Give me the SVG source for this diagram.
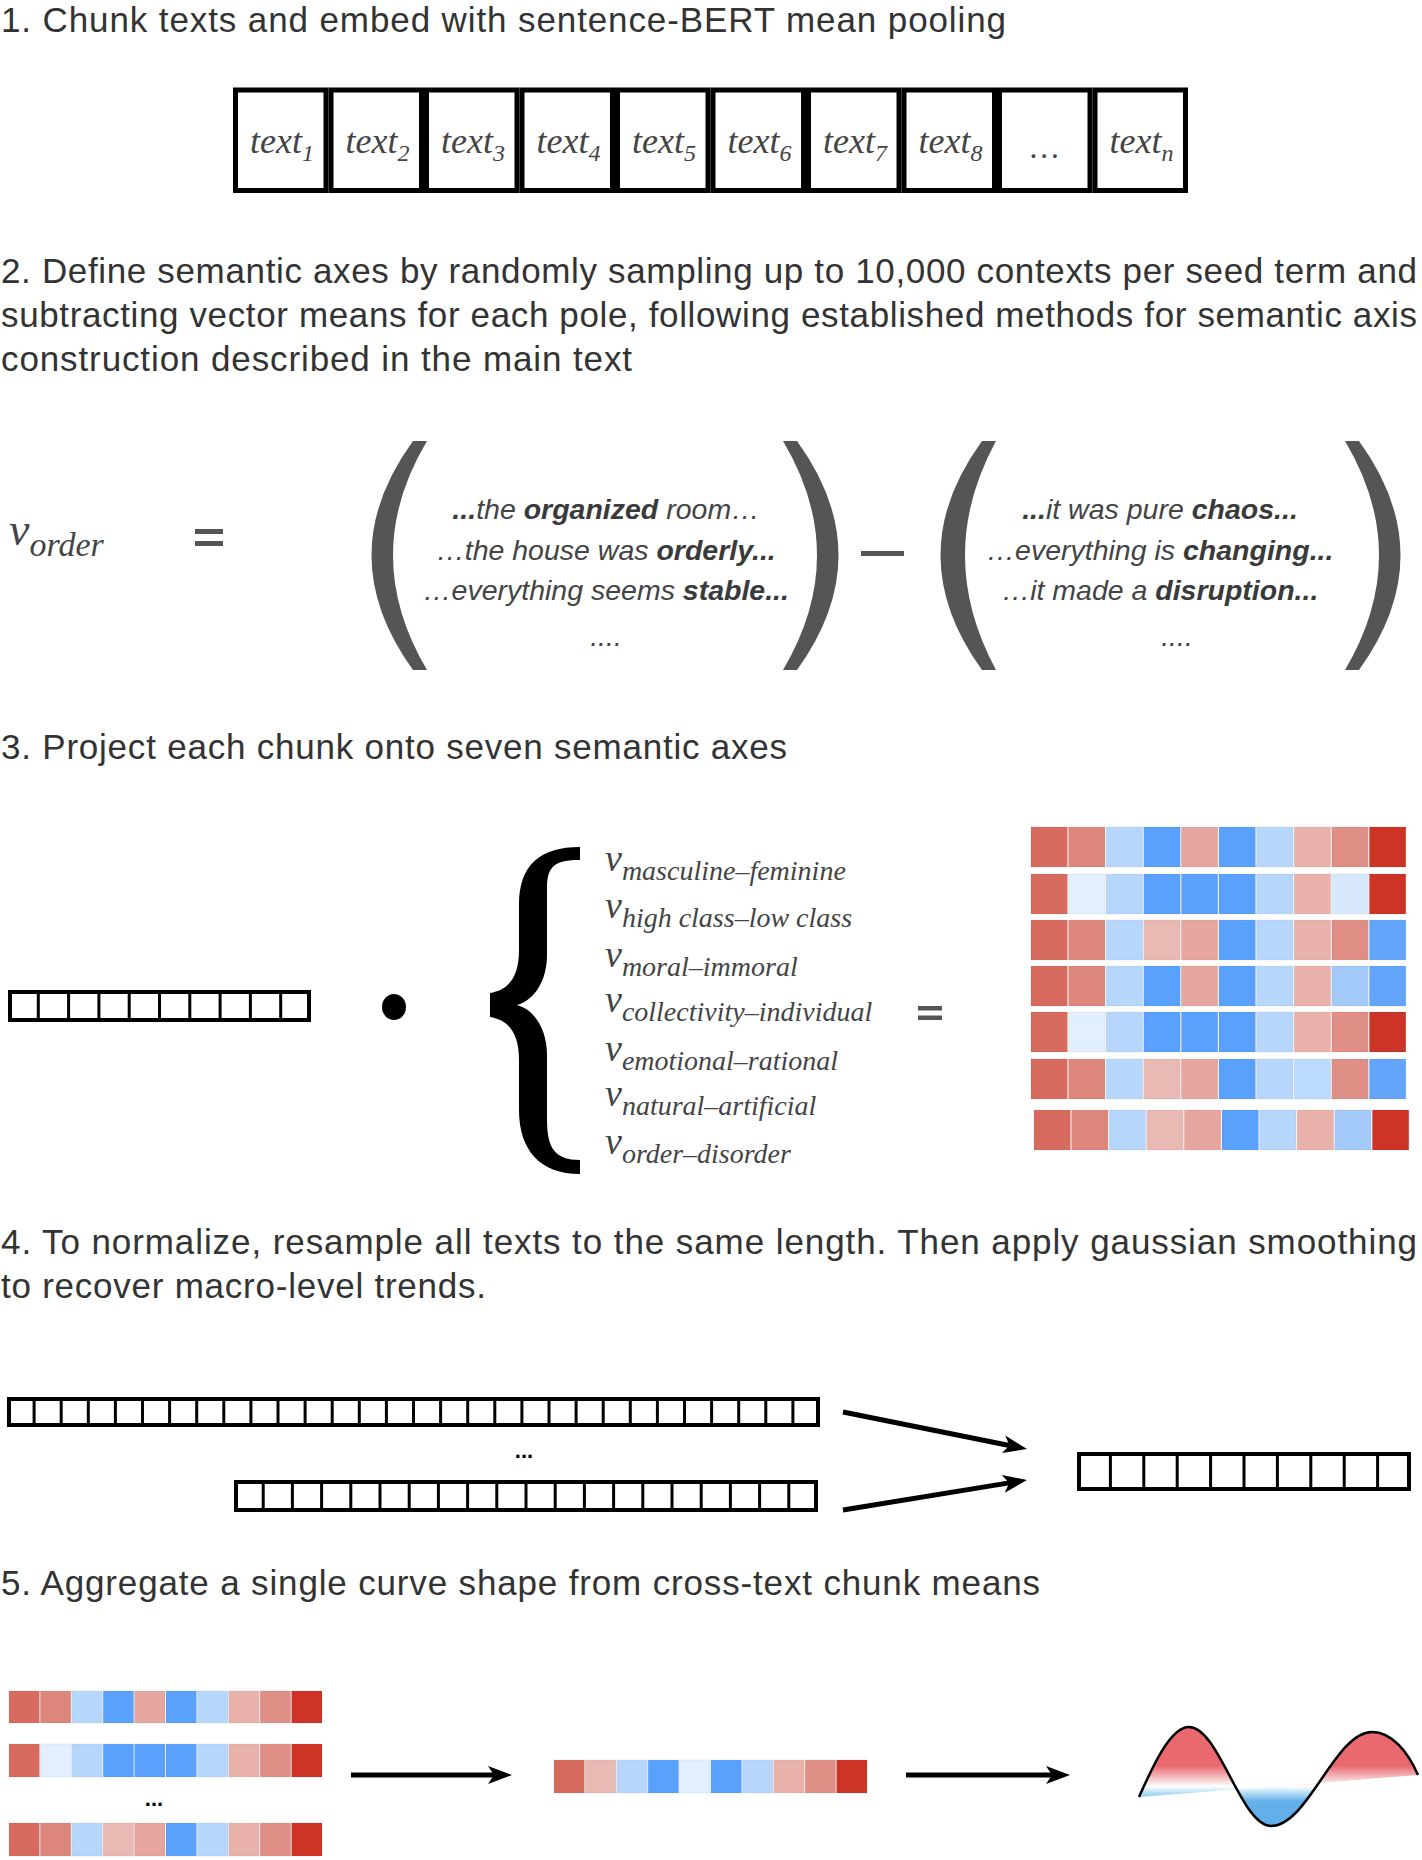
<svg xmlns="http://www.w3.org/2000/svg" width="1422" height="1860" viewBox="0 0 1422 1860">
<style>
.h{font-family:"Liberation Sans",Arial,sans-serif;font-size:35px;fill:#333}
.m{font-family:"Liberation Serif","Times New Roman",serif;font-style:italic;fill:#444}
.q{font-family:"Liberation Sans",Arial,sans-serif;font-style:italic;font-size:28.5px;fill:#444;text-anchor:middle}
.b{font-weight:bold;fill:#3a3a3a}
.cell{fill:#fff;stroke:#000;stroke-width:5}
.bar{fill:#fff;stroke:#000;stroke-width:4}
.div{stroke:#000;stroke-width:3;fill:none}
.gray{fill:#555}
.R1{fill:#d76b5f}.R2{fill:#dd877c}.R2b{fill:#e08f87}.R3{fill:#cd3425}
.P1{fill:#e6a59e}.P2{fill:#e9b2ab}.P3{fill:#e9b9b4}
.B1{fill:#5aa1fd}.B2{fill:#62a5fb}
.LB{fill:#b7d6fc}.LB3{fill:#a4cafa}.LB4{fill:#bcdafd}
.VLB{fill:#e2effe}.VLB2{fill:#d9e9fd}
.hm rect{stroke:#000;stroke-opacity:0.06;stroke-width:1}
.arrow{stroke:#000;stroke-width:5;fill:none;marker-end:url(#ah)}
</style>
<defs>
<marker id="ah" markerUnits="userSpaceOnUse" markerWidth="24" markerHeight="20" refX="6" refY="10" orient="auto">
<path d="M0,1 L24,10 L0,19 L6,10 Z" fill="#000"/>
</marker>
<linearGradient id="wave" gradientUnits="userSpaceOnUse" x1="0" y1="1727" x2="0" y2="1826">
<stop offset="0" stop-color="#e9696f"/>
<stop offset="0.39" stop-color="#e9696f"/>
<stop offset="0.60" stop-color="#ffffff"/>
<stop offset="0.65" stop-color="#c5e6f7"/>
<stop offset="0.75" stop-color="#63b0eb"/>
<stop offset="1" stop-color="#60aeeb"/>
</linearGradient>
</defs>
<rect width="1422" height="1860" fill="#fff"/>

<!-- Step titles -->
<g id="title1"><text class="h" x="1" y="32" textLength="1005">1. Chunk texts and embed with sentence-BERT mean pooling</text></g>
<g id="title2">
<text class="h" x="1" y="283" textLength="1416">2. Define semantic axes by randomly sampling up to 10,000 contexts per seed term and</text>
<text class="h" x="1" y="327" textLength="1416">subtracting vector means for each pole, following established methods for semantic axis</text>
<text class="h" x="1" y="371" textLength="631">construction described in the main text</text>
</g>
<g id="title3"><text class="h" x="1" y="759" textLength="786">3. Project each chunk onto seven semantic axes</text></g>
<g id="title4">
<text class="h" x="1" y="1254" textLength="1416">4. To normalize, resample all texts to the same length. Then apply gaussian smoothing</text>
<text class="h" x="1" y="1298" textLength="485">to recover macro-level trends.</text>
</g>
<g id="title5"><text class="h" x="1" y="1595" textLength="1039">5. Aggregate a single curve shape from cross-text chunk means</text></g>

<!-- Step 1 -->
<g id="chunks">
<rect class="cell" x="235.5" y="90" width="90.5" height="100.5"/>
<rect class="cell" x="331" y="90" width="90.5" height="100.5"/>
<rect class="cell" x="426.5" y="90" width="90.5" height="100.5"/>
<rect class="cell" x="522" y="90" width="90.5" height="100.5"/>
<rect class="cell" x="617.5" y="90" width="90.5" height="100.5"/>
<rect class="cell" x="713" y="90" width="90.5" height="100.5"/>
<rect class="cell" x="808.5" y="90" width="90.5" height="100.5"/>
<rect class="cell" x="904" y="90" width="90.5" height="100.5"/>
<rect class="cell" x="999.5" y="90" width="90.5" height="100.5"/>
<rect class="cell" x="1095" y="90" width="90.5" height="100.5"/>
<g class="m" font-size="36" text-anchor="middle">
<text x="282" y="153">text<tspan font-size="24" dy="8">1</tspan></text>
<text x="377.5" y="153">text<tspan font-size="24" dy="8">2</tspan></text>
<text x="473" y="153">text<tspan font-size="24" dy="8">3</tspan></text>
<text x="568.5" y="153">text<tspan font-size="24" dy="8">4</tspan></text>
<text x="664" y="153">text<tspan font-size="24" dy="8">5</tspan></text>
<text x="759.5" y="153">text<tspan font-size="24" dy="8">6</tspan></text>
<text x="855" y="153">text<tspan font-size="24" dy="8">7</tspan></text>
<text x="950.5" y="153">text<tspan font-size="24" dy="8">8</tspan></text>
<text x="1044.75" y="158" font-size="32">…</text>
<text x="1141.5" y="153">text<tspan font-size="24" dy="8">n</tspan></text>
</g>
</g>

<!-- Step 2 -->
<g id="v-order"><text class="m" x="9" y="545" font-size="46">v<tspan font-size="34" dy="11">order</tspan></text></g>
<g id="equals1" class="gray"><rect x="195" y="529" width="28" height="5"/><rect x="195" y="541" width="28" height="5"/></g>
<g id="order-pole">
<path class="gray" d="M413,441 L427,441 Q359,555 427,670 L413,670 Q330,555 413,441 Z"/>
<path class="gray" d="M797,441 L783,441 Q851,555 783,670 L797,670 Q880,555 797,441 Z"/>
<text class="q" x="606" y="519"><tspan class="b">...</tspan>the <tspan class="b">organized</tspan> room…</text>
<text class="q" x="606" y="560">…the house was <tspan class="b">orderly...</tspan></text>
<text class="q" x="606" y="600">…everything seems <tspan class="b">stable...</tspan></text>
<text class="q" x="606" y="646">....</text>
</g>
<g id="minus"><rect class="gray" x="861" y="551" width="43" height="5"/></g>
<g id="disorder-pole">
<path class="gray" d="M982,441 L996,441 Q934,555 996,670 L982,670 Q899,555 982,441 Z"/>
<path class="gray" d="M1359,441 L1345,441 Q1413,555 1345,670 L1359,670 Q1442,555 1359,441 Z"/>
<text class="q" x="1160" y="519"><tspan class="b">...</tspan>it was pure <tspan class="b">chaos...</tspan></text>
<text class="q" x="1160" y="560">…everything is <tspan class="b">changing...</tspan></text>
<text class="q" x="1160" y="600">…it made a <tspan class="b">disruption...</tspan></text>
<text class="q" x="1177" y="646">....</text>
</g>

<!-- Step 3 -->
<g id="chunk-vector">
<rect class="bar" x="10" y="992" width="299" height="28"/>
<path class="div" d="M38.3,990V1022M68.6,990V1022M98.9,990V1022M129.2,990V1022M159.5,990V1022M189.8,990V1022M220.1,990V1022M250.4,990V1022M280.7,990V1022"/>
</g>
<g id="dot"><ellipse cx="394" cy="1007" rx="12" ry="13" fill="#000"/></g>
<g id="axes">
<path fill="#000" d="M580,847 C540,847 519,865 519,905 L519,950 C519,978 508,990 490,993 L490,1017 C508,1020 519,1032 519,1060 L519,1110 C519,1150 540,1174 580,1174 L580,1160 C555,1160 547,1148 547,1120 L547,1055 C547,1030 535,1010 517,1005 C535,1000 547,980 547,955 L547,888 C547,866 555,860 580,860 Z"/>
<g class="m" font-size="38">
<text x="605" y="871">v<tspan font-size="28" dy="9">masculine–feminine</tspan></text>
<text x="605" y="918">v<tspan font-size="28" dy="9">high class–low class</tspan></text>
<text x="605" y="967">v<tspan font-size="28" dy="9">moral–immoral</tspan></text>
<text x="605" y="1012">v<tspan font-size="28" dy="9">collectivity–individual</tspan></text>
<text x="605" y="1061">v<tspan font-size="28" dy="9">emotional–rational</tspan></text>
<text x="605" y="1106">v<tspan font-size="28" dy="9">natural–artificial</tspan></text>
<text x="605" y="1154">v<tspan font-size="28" dy="9">order–disorder</tspan></text>
</g>
</g>
<g id="equals2" class="gray"><rect x="918" y="1006" width="24" height="4.5"/><rect x="918" y="1015.5" width="24" height="4.5"/></g>
<g id="projection-heatmap" class="hm">
<g>
<rect class="R1" x="1031" y="827" width="36.4" height="40"/><rect class="R2" x="1068.6" y="827" width="36.4" height="40"/><rect class="LB" x="1106.2" y="827" width="36.4" height="40"/><rect class="B1" x="1143.8" y="827" width="36.4" height="40"/><rect class="P1" x="1181.4" y="827" width="36.4" height="40"/><rect class="B1" x="1219" y="827" width="36.4" height="40"/><rect class="LB" x="1256.6" y="827" width="36.4" height="40"/><rect class="P2" x="1294.2" y="827" width="36.4" height="40"/><rect class="R2b" x="1331.8" y="827" width="36.4" height="40"/><rect class="R3" x="1369.4" y="827" width="36.4" height="40"/>
</g>
<g>
<rect class="R1" x="1031" y="874" width="36.4" height="40"/><rect class="VLB" x="1068.6" y="874" width="36.4" height="40"/><rect class="LB" x="1106.2" y="874" width="36.4" height="40"/><rect class="B1" x="1143.8" y="874" width="36.4" height="40"/><rect class="B1" x="1181.4" y="874" width="36.4" height="40"/><rect class="B1" x="1219" y="874" width="36.4" height="40"/><rect class="LB" x="1256.6" y="874" width="36.4" height="40"/><rect class="P2" x="1294.2" y="874" width="36.4" height="40"/><rect class="VLB2" x="1331.8" y="874" width="36.4" height="40"/><rect class="R3" x="1369.4" y="874" width="36.4" height="40"/>
</g>
<g>
<rect class="R1" x="1031" y="920" width="36.4" height="40"/><rect class="R2" x="1068.6" y="920" width="36.4" height="40"/><rect class="LB" x="1106.2" y="920" width="36.4" height="40"/><rect class="P3" x="1143.8" y="920" width="36.4" height="40"/><rect class="P1" x="1181.4" y="920" width="36.4" height="40"/><rect class="B1" x="1219" y="920" width="36.4" height="40"/><rect class="LB" x="1256.6" y="920" width="36.4" height="40"/><rect class="P2" x="1294.2" y="920" width="36.4" height="40"/><rect class="R2b" x="1331.8" y="920" width="36.4" height="40"/><rect class="B2" x="1369.4" y="920" width="36.4" height="40"/>
</g>
<g>
<rect class="R1" x="1031" y="966" width="36.4" height="40"/><rect class="R2" x="1068.6" y="966" width="36.4" height="40"/><rect class="LB" x="1106.2" y="966" width="36.4" height="40"/><rect class="B1" x="1143.8" y="966" width="36.4" height="40"/><rect class="P1" x="1181.4" y="966" width="36.4" height="40"/><rect class="B1" x="1219" y="966" width="36.4" height="40"/><rect class="LB" x="1256.6" y="966" width="36.4" height="40"/><rect class="P2" x="1294.2" y="966" width="36.4" height="40"/><rect class="LB3" x="1331.8" y="966" width="36.4" height="40"/><rect class="B2" x="1369.4" y="966" width="36.4" height="40"/>
</g>
<g>
<rect class="R1" x="1031" y="1012" width="36.4" height="40"/><rect class="VLB" x="1068.6" y="1012" width="36.4" height="40"/><rect class="LB" x="1106.2" y="1012" width="36.4" height="40"/><rect class="B1" x="1143.8" y="1012" width="36.4" height="40"/><rect class="B1" x="1181.4" y="1012" width="36.4" height="40"/><rect class="B1" x="1219" y="1012" width="36.4" height="40"/><rect class="LB" x="1256.6" y="1012" width="36.4" height="40"/><rect class="P2" x="1294.2" y="1012" width="36.4" height="40"/><rect class="R2b" x="1331.8" y="1012" width="36.4" height="40"/><rect class="R3" x="1369.4" y="1012" width="36.4" height="40"/>
</g>
<g>
<rect class="R1" x="1031" y="1059" width="36.4" height="40"/><rect class="R2" x="1068.6" y="1059" width="36.4" height="40"/><rect class="LB" x="1106.2" y="1059" width="36.4" height="40"/><rect class="P3" x="1143.8" y="1059" width="36.4" height="40"/><rect class="P1" x="1181.4" y="1059" width="36.4" height="40"/><rect class="B1" x="1219" y="1059" width="36.4" height="40"/><rect class="LB" x="1256.6" y="1059" width="36.4" height="40"/><rect class="LB4" x="1294.2" y="1059" width="36.4" height="40"/><rect class="R2b" x="1331.8" y="1059" width="36.4" height="40"/><rect class="B2" x="1369.4" y="1059" width="36.4" height="40"/>
</g>
<g transform="translate(3,0)">
<rect class="R1" x="1031" y="1110" width="36.4" height="40"/><rect class="R2" x="1068.6" y="1110" width="36.4" height="40"/><rect class="LB" x="1106.2" y="1110" width="36.4" height="40"/><rect class="P3" x="1143.8" y="1110" width="36.4" height="40"/><rect class="P1" x="1181.4" y="1110" width="36.4" height="40"/><rect class="B1" x="1219" y="1110" width="36.4" height="40"/><rect class="LB" x="1256.6" y="1110" width="36.4" height="40"/><rect class="P2" x="1294.2" y="1110" width="36.4" height="40"/><rect class="LB3" x="1331.8" y="1110" width="36.4" height="40"/><rect class="R3" x="1369.4" y="1110" width="36.4" height="40"/>
</g>
</g>

<!-- Step 4 -->
<g id="long-text">
<rect class="bar" x="9" y="1399" width="809" height="26"/>
<path class="div" d="M34.1,1397V1427M61.2,1397V1427M88.3,1397V1427M115.4,1397V1427M142.5,1397V1427M169.6,1397V1427M196.7,1397V1427M223.8,1397V1427M250.9,1397V1427M278,1397V1427M305.1,1397V1427M332.2,1397V1427M359.3,1397V1427M386.4,1397V1427M413.5,1397V1427M440.6,1397V1427M467.7,1397V1427M494.8,1397V1427M521.9,1397V1427M549,1397V1427M576.1,1397V1427M603.2,1397V1427M630.3,1397V1427M657.4,1397V1427M684.5,1397V1427M711.6,1397V1427M738.7,1397V1427M765.8,1397V1427M792.9,1397V1427"/>
</g>
<g id="ellipsis4"><text x="524" y="1458" font-family="Liberation Sans,Arial,sans-serif" font-size="22" font-weight="bold" text-anchor="middle" fill="#000">...</text></g>
<g id="short-text">
<rect class="bar" x="236" y="1482" width="580" height="28"/>
<path class="div" d="M263.2,1480V1512M292.4,1480V1512M321.6,1480V1512M350.8,1480V1512M380,1480V1512M409.2,1480V1512M438.4,1480V1512M467.6,1480V1512M496.8,1480V1512M526,1480V1512M555.2,1480V1512M584.4,1480V1512M613.6,1480V1512M642.8,1480V1512M672,1480V1512M701.2,1480V1512M730.4,1480V1512M759.6,1480V1512M788.8,1480V1512"/>
</g>
<g id="resampled">
<rect class="bar" x="1079" y="1454" width="330" height="35"/>
<path class="div" d="M1110.4,1452V1491M1143.8,1452V1491M1177.2,1452V1491M1210.6,1452V1491M1244,1452V1491M1277.4,1452V1491M1310.8,1452V1491M1344.2,1452V1491M1377.6,1452V1491"/>
</g>

<!-- Step 5 -->
<g id="text-heatmaps" class="hm">
<g>
<rect class="R1" x="9" y="1691" width="30.4" height="32"/><rect class="R2" x="40.4" y="1691" width="30.4" height="32"/><rect class="LB" x="71.8" y="1691" width="30.4" height="32"/><rect class="B1" x="103.2" y="1691" width="30.4" height="32"/><rect class="P1" x="134.6" y="1691" width="30.4" height="32"/><rect class="B1" x="166" y="1691" width="30.4" height="32"/><rect class="LB" x="197.4" y="1691" width="30.4" height="32"/><rect class="P2" x="228.8" y="1691" width="30.4" height="32"/><rect class="R2b" x="260.2" y="1691" width="30.4" height="32"/><rect class="R3" x="291.6" y="1691" width="30.4" height="32"/>
</g>
<g>
<rect class="R1" x="9" y="1744" width="30.4" height="33"/><rect class="VLB" x="40.4" y="1744" width="30.4" height="33"/><rect class="LB" x="71.8" y="1744" width="30.4" height="33"/><rect class="B1" x="103.2" y="1744" width="30.4" height="33"/><rect class="B1" x="134.6" y="1744" width="30.4" height="33"/><rect class="B1" x="166" y="1744" width="30.4" height="33"/><rect class="LB" x="197.4" y="1744" width="30.4" height="33"/><rect class="P2" x="228.8" y="1744" width="30.4" height="33"/><rect class="R2b" x="260.2" y="1744" width="30.4" height="33"/><rect class="R3" x="291.6" y="1744" width="30.4" height="33"/>
</g>
<g>
<rect class="R1" x="9" y="1823" width="30.4" height="33"/><rect class="R2" x="40.4" y="1823" width="30.4" height="33"/><rect class="LB" x="71.8" y="1823" width="30.4" height="33"/><rect class="P3" x="103.2" y="1823" width="30.4" height="33"/><rect class="P1" x="134.6" y="1823" width="30.4" height="33"/><rect class="B1" x="166" y="1823" width="30.4" height="33"/><rect class="LB" x="197.4" y="1823" width="30.4" height="33"/><rect class="P2" x="228.8" y="1823" width="30.4" height="33"/><rect class="R2b" x="260.2" y="1823" width="30.4" height="33"/><rect class="R3" x="291.6" y="1823" width="30.4" height="33"/>
</g>
</g>
<g id="ellipsis5"><text x="154" y="1806" font-family="Liberation Sans,Arial,sans-serif" font-size="22" font-weight="bold" text-anchor="middle" fill="#000">...</text></g>
<g id="mean-heatmap" class="hm">
<rect class="R1" x="554" y="1760" width="30.4" height="33"/><rect class="P3" x="585.4" y="1760" width="30.4" height="33"/><rect class="LB" x="616.8" y="1760" width="30.4" height="33"/><rect class="B1" x="648.2" y="1760" width="30.4" height="33"/><rect class="VLB" x="679.6" y="1760" width="30.4" height="33"/><rect class="B1" x="711" y="1760" width="30.4" height="33"/><rect class="LB" x="742.4" y="1760" width="30.4" height="33"/><rect class="P2" x="773.8" y="1760" width="30.4" height="33"/><rect class="R2b" x="805.2" y="1760" width="30.4" height="33"/><rect class="R3" x="836.6" y="1760" width="30.4" height="33"/>
</g>
<g id="curve">
<path d="M1139,1797 C1152,1768 1170,1727 1189,1727 C1219,1727 1241,1826 1271,1826 C1308,1826 1335,1732 1372,1732 C1392,1732 1408,1752 1418,1775 Z" fill="url(#wave)"/>
<path d="M1139,1797 C1152,1768 1170,1727 1189,1727 C1219,1727 1241,1826 1271,1826 C1308,1826 1335,1732 1372,1732 C1392,1732 1408,1752 1418,1775" fill="none" stroke="#000" stroke-width="2.5"/>
</g>

<!-- Connectors -->
<g id="connectors">
<line class="arrow" x1="843" y1="1412" x2="1009.4" y2="1445.5"/>
<line class="arrow" x1="843" y1="1510" x2="1009.2" y2="1482.9"/>
<line class="arrow" x1="351" y1="1775" x2="494" y2="1775"/>
<line class="arrow" x1="906" y1="1775" x2="1052" y2="1775"/>
</g>
</svg>
